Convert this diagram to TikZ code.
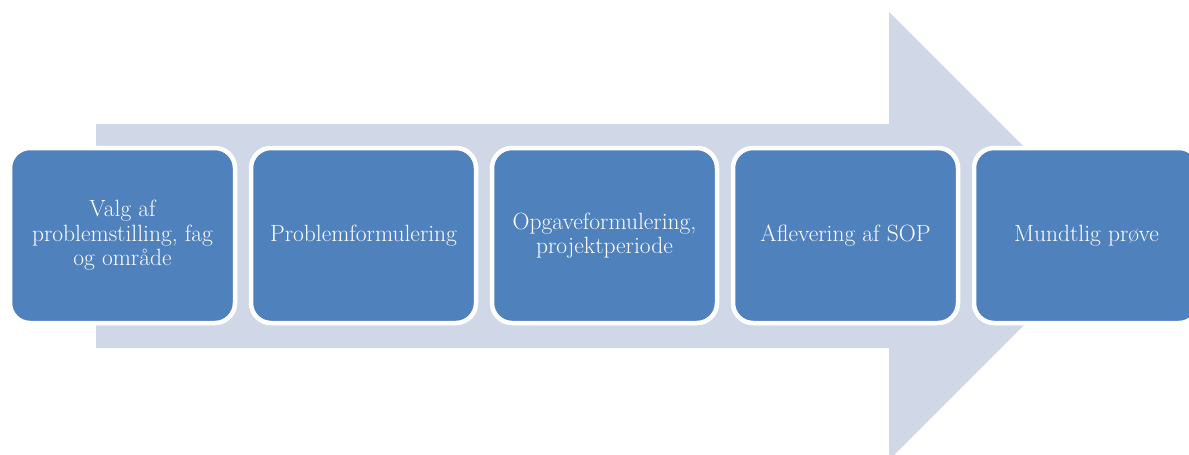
\documentclass[tikz,border=0pt]{standalone}
\usepackage{fontspec}
\definecolor{stepblue}{HTML}{4F81BD}
\definecolor{arrowgrey}{HTML}{D0D8E8}
\tikzset{
  stepbox/.style={draw=white, fill=stepblue, line width=4.5pt, rounded corners=20pt,
    minimum width=225pt, minimum height=175pt, inner sep=0pt, align=center,
    text=white, font=\fontsize{23.5}{24.5}\selectfont}
}
\begin{document}
\begin{tikzpicture}[x=1pt, y=-1pt]

\useasboundingbox (0,0) rectangle (1189,455);
\clip (0,0) rectangle (1189,455);

% big arrow behind the steps
\fill [arrowgrey] (96,124) -- (889,124) -- (889,12) -- (1113,236) -- (889,460) -- (889,348) -- (96,348) -- cycle;

\node [stepbox] (s1) at (122.5,235.5) {Valg af\\problemstilling, fag\\og område};
\node [stepbox] (s2) at (363.5,235.5) {Problemformulering};
\node [stepbox] (s3) at (604.5,235.5) {Opgaveformulering,\\projektperiode};
\node [stepbox] (s4) at (845.5,235.5) {Aflevering af SOP};
\node [stepbox] (s5) at (1086.5,235.5) {Mundtlig prøve};

\end{tikzpicture}
\end{document}
